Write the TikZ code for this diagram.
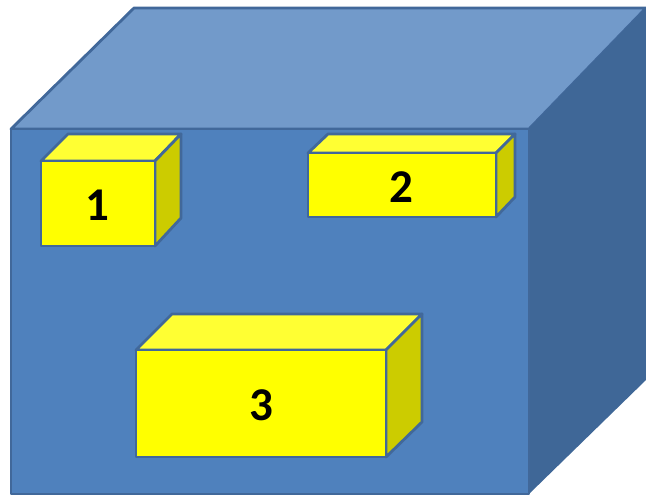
\documentclass[tikz,border=0pt]{standalone}
\usepackage{fontspec}
\setmainfont{Carlito}
\definecolor{cfront}{HTML}{4F81BD}
\definecolor{ctop}{HTML}{729ACA}
\definecolor{cside}{HTML}{3F6797}
\definecolor{cedge}{HTML}{41689A}
\definecolor{yfront}{HTML}{FFFF00}
\definecolor{ytop}{HTML}{FFFF33}
\definecolor{yside}{HTML}{CCCC00}
\tikzset{
  face/.style={draw=cedge,line width=2.8pt,line join=round},
  smallface/.style={draw=cedge,line width=2.8pt,line join=round},
  digit/.style={font=\bfseries\fontsize{47}{47}\selectfont,text=black,inner sep=0pt}
}
\begin{document}
\begin{tikzpicture}[x=1pt,y=-1pt]
\useasboundingbox (0,0) rectangle (646,496);
\clip (0,0) rectangle (646,496);
% large cube
\fill[ctop,face] (11,129) -- (134,8) -- (646,8) -- (529,129) -- cycle;
\fill[cside] (529,129) -- (646,8) -- (646,380) -- (529,494) -- cycle;
\fill[cfront,face] (11,129) rectangle (529,494);
% box 1
\fill[ytop,smallface] (41,161) -- (68,134) -- (181,134) -- (155,161) -- cycle;
\fill[yside,smallface] (155,161) -- (181,134) -- (181,218) -- (155,246) -- cycle;
\fill[yfront,smallface] (41,161) rectangle (155,246);
\node[digit] (one) at (97.5,205) {1};
% box 2
\fill[ytop,smallface] (308,153) -- (328,134) -- (515,134) -- (496,153) -- cycle;
\fill[yside,smallface] (496,153) -- (515,134) -- (515,197) -- (496,217) -- cycle;
\fill[yfront,smallface] (308,153) rectangle (496,217);
\node[digit] (two) at (401.5,187) {2};
% box 3
\fill[ytop,smallface] (136,350) -- (172,314) -- (422,314) -- (386,350) -- cycle;
\fill[yside,smallface] (386,350) -- (422,314) -- (422,422) -- (386,457) -- cycle;
\fill[yfront,smallface] (136,350) rectangle (386,457);
\node[digit] (three) at (261,405) {3};
\end{tikzpicture}
\end{document}
